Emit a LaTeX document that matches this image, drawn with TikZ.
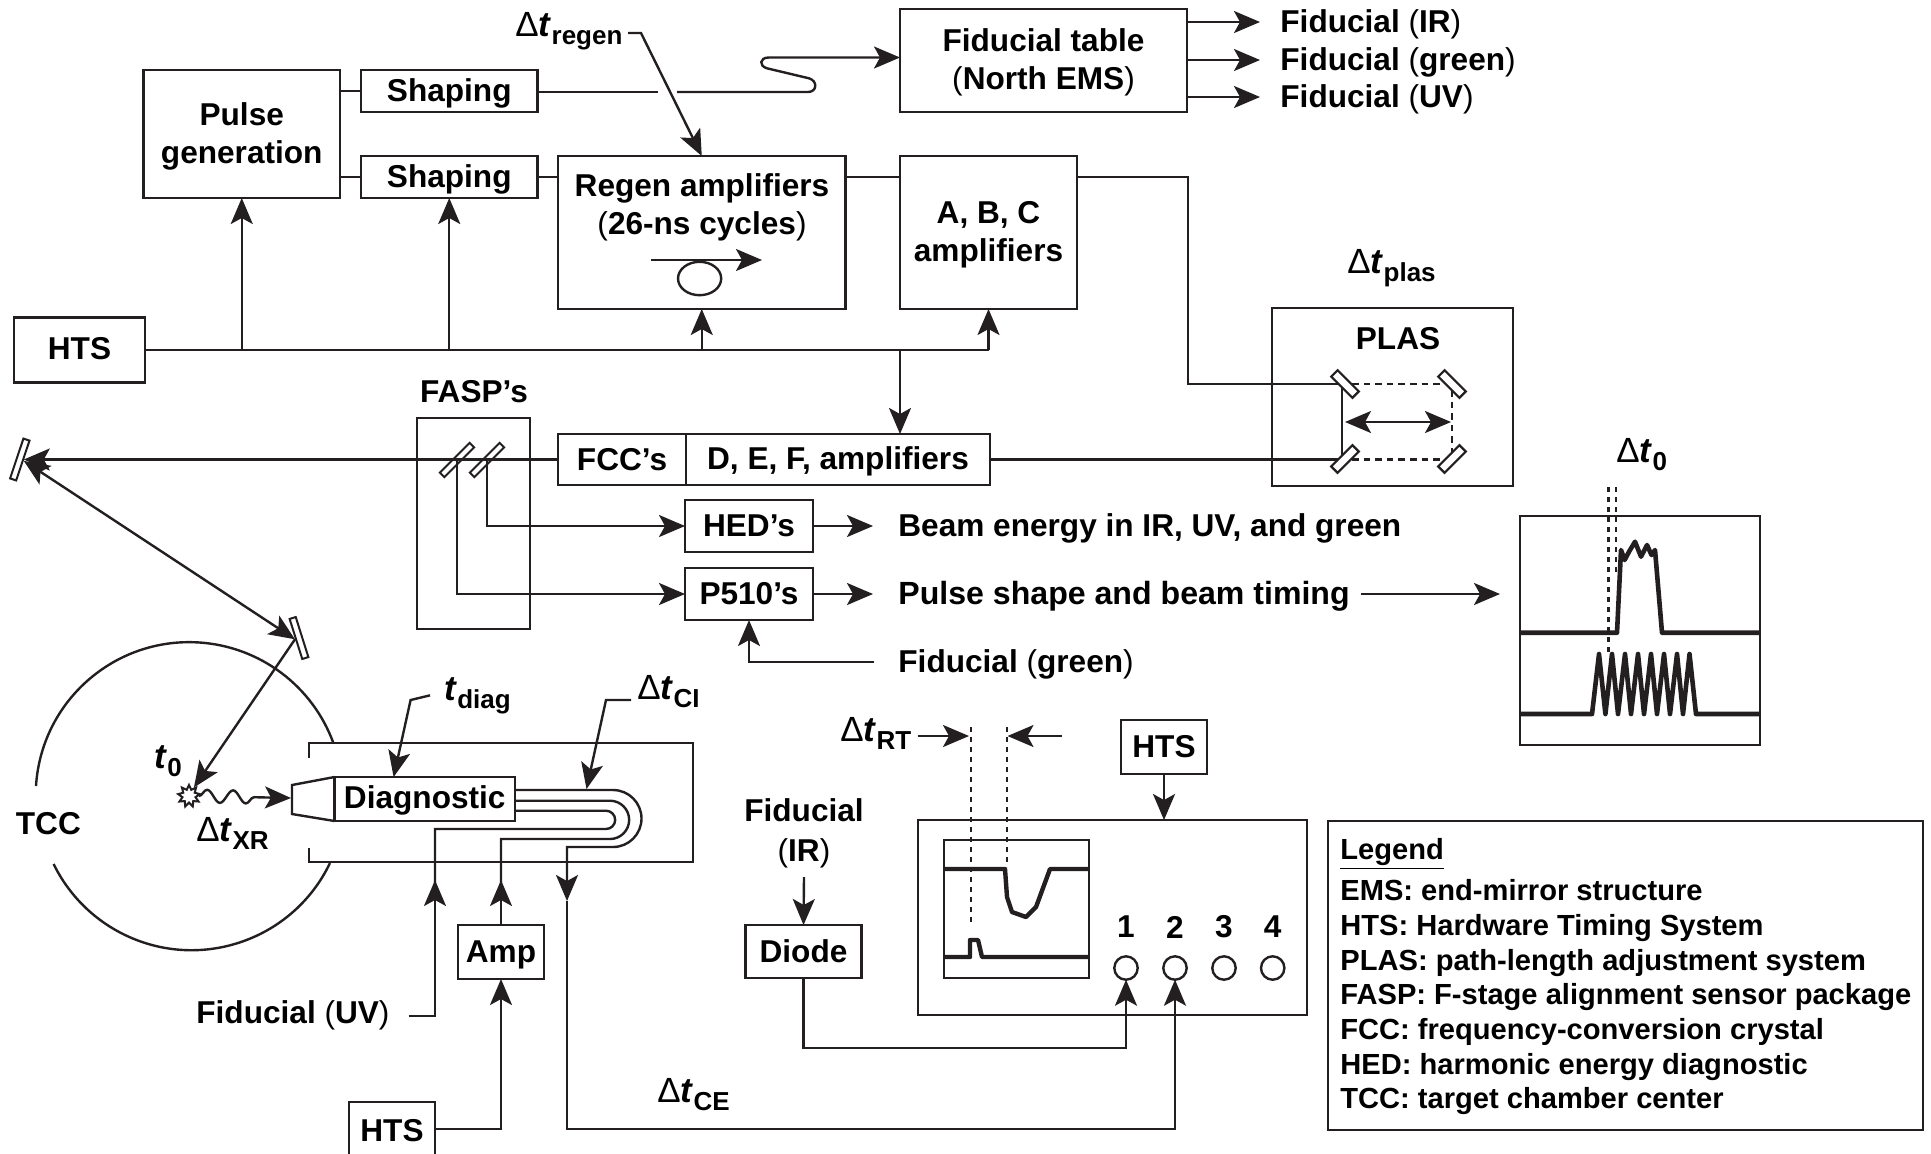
\documentclass[tikz,border=0pt]{standalone}
\usepackage{fontspec}
\setmainfont{Liberation Sans}
\usetikzlibrary{arrows.meta,shapes.geometric,decorations.pathmorphing}
\definecolor{ink}{HTML}{231F20}
\newcommand{\bigt}{\fontsize{17.5}{18}\selectfont\textit{t}}
\newcommand{\subl}[1]{\lower4pt\hbox{\fontsize{13}{14}\selectfont #1}}
\newcommand{\dtsub}[1]{{\mdseries\fontsize{17.5}{18}\selectfont Δ}{\bigt}\subl{#1}}
\newcommand{\tsub}[1]{{\bigt}\subl{#1}}
\newcommand{\pl}[1]{{\mdseries(}#1{\mdseries)}}
\newcommand{\dn}[1]{\rule{0pt}{#1}}
\tikzset{
  every node/.style={text=black,font=\bfseries\fontsize{15.8}{19}\selectfont},
  thin line/.style={line width=1.2pt,draw=ink},
  boxn/.style={draw=ink,line width=1.2pt,inner sep=0pt,outer sep=0pt,align=center},
  arr/.style={thin line,-{Stealth[length=13pt,width=11pt,inset=3pt]}},
  darr/.style={thin line,{Stealth[length=13pt,width=11pt,inset=3pt]}-{Stealth[length=13pt,width=11pt,inset=3pt]}},
  lab/.style={anchor=base west,inner sep=0pt},
  ctr/.style={inner sep=0pt,align=center},
  mirr/.style={draw=ink,fill=white,line width=1.1pt,inner sep=0pt,minimum width=15pt,minimum height=4.5pt},
  split/.style={draw=ink,fill=white,line width=1pt,inner sep=0pt,minimum width=21pt,minimum height=3.2pt},
  dashl/.style={thin line,dash pattern=on 3.3pt off 2.5pt},
  dotl/.style={thin line,dash pattern=on 2.5pt off 2.5pt},
  trace/.style={draw=ink,line width=2.3pt,line join=round},
  port/.style={circle,draw=ink,line width=1.2pt,inner sep=0pt,minimum size=11.7pt,outer sep=0pt},
}
\begin{document}
\begin{tikzpicture}[x=.5pt,y=-.5pt]
\useasboundingbox (0,0) rectangle (1931,1153);
% boxes
\node[boxn,minimum width=98.25pt,minimum height=64pt] (pulse) at (241.75,134) {\dn{13.9pt}Pulse\\generation};
\node[boxn,minimum width=88.25pt,minimum height=21pt] (shapeA) at (449.25,91) {\dn{13.9pt}Shaping};
\node[boxn,minimum width=88.25pt,minimum height=21pt] (shapeB) at (449.25,177) {\dn{13.9pt}Shaping};
\node[boxn,minimum width=143.5pt,minimum height=51.5pt] (table) at (1043.5,60.5) {\dn{12.8pt}Fiducial table\\\pl{North EMS}};
\node[boxn,minimum width=143.75pt,minimum height=76.5pt] (regen) at (701.75,232.5) {};
\node[ctr] (regenT) at (702,207.5) {Regen amplifiers\\\pl{26-ns cycles}};
\node[boxn,minimum width=88.5pt,minimum height=76.5pt] (abc) at (988.5,232.5) {\dn{13pt}A, B, C\\amplifiers};
\node[boxn,minimum width=65.5pt,minimum height=32.5pt] (htsA) at (79.5,350) {\rule[-1.2pt]{0pt}{1pt}HTS};
\node[boxn,minimum width=64pt,minimum height=25.5pt] (fcc) at (622,459.5) {FCC’s};
\node[boxn,minimum width=152pt,minimum height=25.5pt] (def) at (838,459.5) {\dn{13.2pt}D, E, F, amplifiers};
\node[boxn,minimum width=56.5pt,minimum height=105.5pt] (fasp) at (473.5,523.5) {};
\node[ctr] (faspT) at (474,392) {FASP’s};
\node[boxn,minimum width=64pt,minimum height=26pt] (hed) at (749,526) {HED’s};
\node[boxn,minimum width=64pt,minimum height=26pt] (p510) at (749,594) {P510’s};
\node[boxn,minimum width=120.5pt,minimum height=89pt] (plas) at (1392.5,397) {};
\node[ctr] (plasT) at (1398,339) {PLAS};
\node[boxn,minimum width=120pt,minimum height=114.5pt] (scopeR) at (1640,630.5) {};
\node[boxn,minimum width=90.25pt,minimum height=22pt] (diag) at (424.75,799) {\dn{12.7pt}Diagnostic};
\node[boxn,minimum width=43pt,minimum height=27pt] (amp) at (501,952) {\dn{13.9pt}Amp};
\node[boxn,minimum width=43pt,minimum height=27pt] (htsC) at (392,1129) {\dn{12.7pt}HTS};
\node[boxn,minimum width=58pt,minimum height=26.5pt] (diode) at (803.5,951.5) {Diode};
\node[boxn,minimum width=43.25pt,minimum height=27pt] (htsD) at (1164,747) {HTS};
\node[boxn,minimum width=194.5pt,minimum height=97.5pt] (osc) at (1112.5,917.5) {};
\node[boxn,minimum width=72.5pt,minimum height=69pt] (oscS) at (1016.5,909) {};
\node[boxn,minimum width=297.5pt,minimum height=154.5pt] (legend) at (1625.5,975.5) {};
% labels
\node[lab] (lregen) at (515,36) {\dtsub{regen}};
\node[lab] (lplas) at (1347,273) {\dtsub{plas}};
\node[lab] (lzero) at (1616,462.7) {\dtsub{0}};
\node[lab] (lrt) at (840,741.7) {\dtsub{RT}};
\node[lab] (lce) at (657,1102.7) {\dtsub{CE}};
\node[lab] (lci) at (637,699) {\dtsub{CI}};
\node[lab] (ldiag) at (444,700) {\tsub{diag}};
\node[lab] (lxr) at (196,841.7) {\dtsub{XR}};
\node[lab] (ltz) at (154,768) {\tsub{0}};
\node[lab] (ltcc) at (15.5,834) {TCC};
\node[lab] (lfuv) at (196,1023) {Fiducial \pl{UV}};
\node[lab] (lfa) at (1280,32) {Fiducial \pl{IR}};
\node[lab] (lfb) at (1280,70) {Fiducial \pl{green}};
\node[lab] (lfc) at (1280,107) {Fiducial \pl{UV}};
\node[lab] (lbeam) at (898,536) {Beam energy in IR, UV, and green};
\node[lab,font=\bfseries\fontsize{16.05}{19}\selectfont] (lshape) at (898,604) {Pulse shape and beam timing};
\node[lab] (lfg) at (898,672) {Fiducial \pl{green}};
\node[ctr,font=\bfseries\fontsize{15.8}{19.7}\selectfont] (lfir) at (804,833.5) {Fiducial\\\pl{IR}};
\node[anchor=north west,inner sep=0pt,align=left,font=\bfseries\fontsize{14.55}{17.35}\selectfont] (ltext) at (1340,838)
 {\underline{Legend}\\[3.2pt]EMS: end-mirror structure\\HTS: Hardware Timing System\\PLAS: path-length adjustment system\\FASP: F-stage alignment sensor package\\FCC: frequency-conversion crystal\\HED: harmonic energy diagnostic\\TCC: target chamber center};
% coordinates
\coordinate (gapL) at (658,92);
\coordinate (gapR) at (677,92);
\coordinate (tipA) at (1260,22);
\coordinate (tipB) at (1260,60);
\coordinate (tipC) at (1260,97);
\coordinate (leadA) at (628,33);
\coordinate (leadB) at (641,33);
\coordinate (loopL) at (651,260);
\coordinate (loopR) at (762,260);
\coordinate (plasTurn) at (1188,177);
\coordinate (vTop) at (1342,384);
\coordinate (vBot) at (1342,459.5);
\coordinate (hedOut) at (873,526);
\coordinate (pOut) at (873,594);
\coordinate (fgEnd) at (874,662);
\coordinate (tmS) at (1361,594);
\coordinate (tmE) at (1500,594);
% fibre to fiducial table
\draw[thin line] ([yshift=-.5pt]shapeA.east) -- (gapL);
\draw[arr] (gapR) -- (808,92) .. controls (817,92) and (818,81) .. (809,78.3) -- (767,68.3)
  .. controls (759,66) and (759,57.5) .. (769,57.5) -- ([yshift=1.5pt]table.west);
\draw[arr] (leadA) -- (leadB) -- (regen.north);
% simple links
\draw[thin line] (pulse.east |- shapeA.west) -- (shapeA.west);
\draw[thin line] (pulse.east |- shapeB.west) -- (shapeB.west);
\draw[thin line] (shapeB.east) -- (regen.west |- shapeB.east);
\draw[thin line] (regen.east |- shapeB.east) -- (abc.west |- shapeB.east);
\draw[arr] (table.east |- tipA) -- (tipA);
\draw[arr] (table.east |- tipB) -- (tipB);
\draw[arr] (table.east |- tipC) -- (tipC);
% regen loop
\draw[arr] (loopL) -- (loopR);
\draw[thin line] (699.6,278.5) ellipse[x radius=21.6,y radius=16.7];
% HTS bus
\draw[thin line] (htsA.east) -- (abc.south |- htsA.east);
\draw[arr] (pulse.south |- htsA.east) -- (pulse.south);
\draw[arr] (shapeB.south |- htsA.east) -- (shapeB.south);
\draw[arr] (regen.south |- htsA.east) -- (regen.south);
\draw[arr] (abc.south |- htsA.east) -- (abc.south);
\draw[arr] (900,350) -- (900,434);
% PLAS path
\draw[thin line] (abc.east |- plasTurn) -- (plasTurn) |- (vTop);
\draw[thin line] (def.east) -- (vBot);
\draw[thin line] (vTop) -- (vBot);
\draw[dashl] (1352,384) -- (1445,384);
\draw[dashl] (1352,459.5) -- (1445,459.5);
\draw[dashl] (1452,390) -- (1452,452);
\draw[darr] (1345,422) -- (1451,422);
\node[mirr,rotate=-45] (mTL) at (1345,384) {};
\node[mirr,rotate=-45] (mTR) at (1452,384) {};
\node[mirr,rotate=45] (mBL) at (1345,459) {};
\node[mirr,rotate=45] (mBR) at (1452,459) {};
% FASP
\node[split,rotate=45] (sA) at (457,460) {};
\node[split,rotate=45] (sB) at (487,460) {};
\node[split,rotate=71.5] (m1) at (19.8,459.5) {};
\node[split,rotate=-72.5] (m2) at (299,638) {};
\draw[arr] (fcc.west) -- (m1.south |- fcc.west);
\draw[darr] (m1.south) -- (m2.south);
\draw[arr] (sB.center) |- (hed.west);
\draw[arr] (sA.center) |- (p510.west);
\draw[arr] (hed.east) -- (hedOut);
\draw[arr] (p510.east) -- (pOut);
\draw[arr] (fgEnd) -| (p510.south);
\draw[arr] (tmS) -- (tmE);
% right scope
\draw[dotl] (1608.5,487) -- (1608.5,652);
\draw[dotl] (1616,487) -- (1616,573);
\draw[trace] (scopeR.west |- 0,632.7) -- (1617,632.7) -- (1621,550) -- (1624.6,560) -- (1629,551.7) -- (1635,541.7) -- (1641,556.7) -- (1647,545) -- (1651.5,555) -- (1655,550) -- (1662,632.7) -- (scopeR.east |- 0,632.7);
\draw[trace] (scopeR.west |- 0,714) -- (1592,714) -- (1599,654) -- (1605.4,714) -- (1612,654) -- (1618,714) -- (1625,654) -- (1631,714) -- (1638,654) -- (1644,714) -- (1651,654) -- (1657,714) -- (1664,654) -- (1670,714) -- (1677,654) -- (1683,714) -- (1689.5,654) -- (1696,714) -- (scopeR.east |- 0,714);
% chamber
\draw[thin line] (36,786) arc[start angle=183.6,end angle=340,radius=153.5];
\draw[thin line] (330,863) arc[start angle=25.6,end angle=154,radius=153.5];
\draw[thin line] (309,758) -- (309,743) -- (693,743) -- (693,862) -- (309,862) -- (309,848);
\draw[thin line] (diag.north west) -- (292,785) -- (292,814) -- (diag.south west);
\node[star,star points=9,star point height=2.2pt,minimum size=11pt,inner sep=0pt,draw=ink,fill=white,line width=1pt] (burst) at (189,796) {};
\draw[arr,decorate,decoration={snake,amplitude=3.2pt,segment length=13pt,post length=12pt}] (burst.east) -- (291,798);
\draw[arr] (m2.south) -- (burst.60);
% leaders
\draw[arr] (ldiag.west -| 430,700) -- (410.6,700) -- (393.6,777);
\draw[arr] (631,700) -- (606,700) -- (586.5,789);
% cables
\draw[thin line] ([yshift=4.5pt]diag.east) -- (613,790) arc[start angle=-90,end angle=90,radius=28.5] -- (567,847) -- (567,880);
\draw[thin line] ([yshift=-.85pt]diag.east) -- (610,800.7) arc[start angle=-90,end angle=90,radius=19.15] -- (501,839) -- (501,885);
\draw[thin line] ([yshift=-5.85pt]diag.east) -- (606,810.7) arc[start angle=-90,end angle=90,radius=9.15] -- (435,829) -- (435,885);
\draw[arr] (567,847) -- (567,901);
\draw[arr] (amp.north) -- (501,880);
\draw[arr] (408.6,1015.7) -- (435,1015.7) -- (435,880);
\draw[arr] (htsC.east) -| (amp.south);
% oscilloscope
\draw[trace,line width=2.2pt] (oscS.west |- 0,869) -- (1005,869) -- (1007,897) -- (1012,912) -- (1026,917) -- (1036,907) -- (1050,869) -- (oscS.east |- 0,869);
\draw[trace,line width=2.2pt] (oscS.west |- 0,957) -- (970,957) -- (970,940) -- (978,940) -- (982,957) -- (oscS.east |- 0,957);
\draw[dotl] (970.7,727) -- (970.7,923);
\draw[dotl] (1006.7,727) -- (1006.7,867);
\draw[arr] (lrt.east |- 0,736) ++(6,0) -- (969,736);
\draw[arr] (1061.7,736) -- (1007.5,736);
\draw[arr] (htsD.south) -- (osc.north -| htsD.south);
\foreach \n/\x in {1/1126,2/1175,3/1224,4/1272.7}{
  \node[ctr] (num\n) at (\x,927) {\n};
  \node[port] (port\n) at (\x,968) {};
}
\coordinate (busA) at (1000,1048);
\coordinate (busB) at (900,1129);
\draw[arr] (diode.south) |- (busA) -| (port1.south);
\draw[arr] (567,901) |- (busB) -| (port2.south);
\coordinate (firS) at (804,877);
\draw[arr] (firS) -- (diode.north);
\end{tikzpicture}
\end{document}
